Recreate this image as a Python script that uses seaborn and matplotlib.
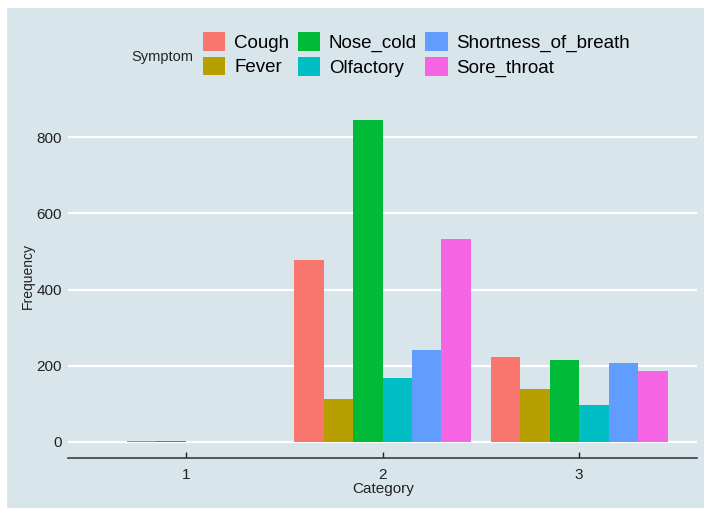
import matplotlib
matplotlib.use("Agg")
import matplotlib.pyplot as plt
import pandas as pd
import seaborn as sns
from matplotlib.patches import Rectangle

# data
categories = ["1", "2", "3"]
symptoms = ["Cough", "Fever", "Nose_cold", "Olfactory", "Shortness_of_breath", "Sore_throat"]
freq_cat1 = [0, 2, 2, 0, 0, 0]
freq_cat2 = [477, 113, 845, 168, 242, 534]
freq_cat3 = [224, 138, 214, 98, 208, 186]
colors = ["#F8766D", "#B79F00", "#00BA38", "#00BFC4", "#619CFF", "#F564E3"]

rows = []
for cat, vals in zip(categories, [freq_cat1, freq_cat2, freq_cat3]):
    for s, v in zip(symptoms, vals):
        rows.append({"Category": cat, "Symptom": s, "Frequency": v})
df = pd.DataFrame(rows)

bg = "#d8e5eb"
plt.rcParams["font.family"] = ["Liberation Sans", "DejaVu Sans"]

fig = plt.figure(figsize=(7.04, 5.08), dpi=100, facecolor=bg)
# white strips along the left and top edge, as in the screenshot
fig.patches.append(Rectangle((0, 0), 7 / 704, 1, transform=fig.transFigure,
                             facecolor="white", edgecolor="none", zorder=-10))
fig.patches.append(Rectangle((0, 1 - 8 / 508), 1, 8 / 508, transform=fig.transFigure,
                             facecolor="white", edgecolor="none", zorder=-10))
ax = fig.add_axes([68 / 704, 50 / 508, 629 / 704, 354 / 508])
ax.set_facecolor(bg)

sns.barplot(data=df, x="Category", y="Frequency", hue="Symptom", order=categories,
            hue_order=symptoms, palette=colors, width=0.9, linewidth=0, saturation=1, ax=ax)

ax.set_xlim(-0.6, 2.6)
ax.set_ylim(-42.25, 887.25)
ax.set_yticks([0, 200, 400, 600, 800])
ax.set_axisbelow(True)
ax.grid(axis="y", color="white", linewidth=1.6)
ax.grid(axis="x", visible=False)
for side in ["top", "right", "left"]:
    ax.spines[side].set_visible(False)
ax.spines["bottom"].set_color("#3c3c3c")
ax.spines["bottom"].set_linewidth(1.2)
ax.tick_params(axis="y", length=0, pad=4.5, labelsize=11, labelcolor="#222222")
ax.tick_params(axis="x", direction="in", length=4.5, width=1, color="#222222",
               pad=7, labelsize=11, labelcolor="#222222")
ax.set_xlabel("")
ax.set_ylabel("")
fig.text(383 / 704, 1 - 489 / 508, "Category", ha="center", va="center", fontsize=11, color="#222222")
fig.text(28 / 704, 1 - 276 / 508, "Frequency", ha="center", va="center", rotation=90,
         fontsize=10, color="#222222")

handles, labels = ax.get_legend_handles_labels()
ax.legend_.remove()
for h in handles:
    h.set_edgecolor("none")
fig.legend(handles, labels, loc="upper left", bbox_to_anchor=(203 / 704, 1 - 32 / 508),
           ncol=3, frameon=False, fontsize=13.5, borderpad=0, borderaxespad=0,
           handlelength=1.18, handleheight=1.18, labelspacing=0.25,
           handletextpad=0.48, columnspacing=0.45)
fig.text(131 / 704, 1 - 57 / 508, "Symptom", ha="left", va="center", fontsize=10.5, color="#222222")

fig.savefig("out.png", dpi=100, facecolor=bg)
